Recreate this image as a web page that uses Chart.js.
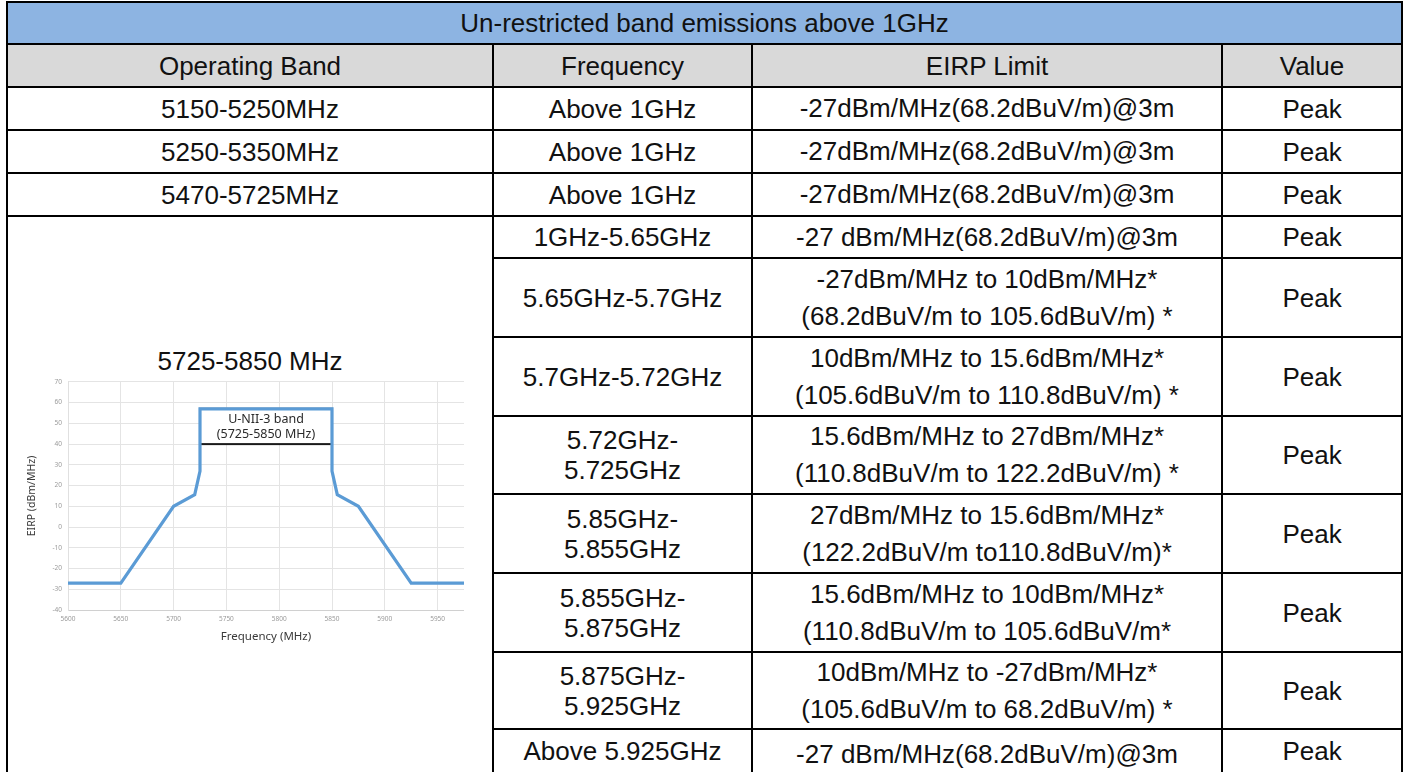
<!DOCTYPE html>
<html><head><meta charset="utf-8">
<script src="https://cdn.jsdelivr.net/npm/chart.js@4.4.1/dist/chart.umd.min.js"></script>
<style>
html,body{margin:0;padding:0;background:#fff;width:1408px;height:772px;overflow:hidden;}
#wrap{position:relative;width:1408px;height:772px;overflow:hidden;}
table{position:absolute;left:6px;top:1px;border-collapse:collapse;table-layout:fixed;width:1397px;
  font-family:"Liberation Sans",Arial,sans-serif;font-size:26px;color:#111;}
td{border:2px solid #000;text-align:center;vertical-align:middle;padding:0;overflow:hidden;white-space:nowrap;line-height:30px;}
td.lim{line-height:37px;}
tr.title td{background:#8db4e2;}
tr.head td{background:#d9d9d9;}
#bandLabel{position:absolute;left:7px;width:486px;top:346px;text-align:center;
  font-family:"Liberation Sans",Arial,sans-serif;font-size:26px;color:#111;line-height:30px;}
#chartBox{position:absolute;left:16px;top:372px;width:448px;height:276px;}
</style>
</head><body><div id="wrap">
<table id="tbl"><colgroup><col style="width:486px"><col style="width:259px"><col style="width:470px"><col style="width:180px"></colgroup><tbody></tbody></table>
<div id="bandLabel"></div>
<div id="chartBox"><canvas id="c" width="448" height="276"></canvas></div>
</div>
<script>
// ---- table text ----
const titleText = 'Un-restricted band emissions above 1GHz';
const headers = ['Operating Band', 'Frequency', 'EIRP Limit', 'Value'];
const simpleBands = ['5150-5250MHz', '5250-5350MHz', '5470-5725MHz'];
const simpleFreq = ['Above 1GHz', 'Above 1GHz', 'Above 1GHz'];
const simpleLimit = ['-27dBm/MHz(68.2dBuV/m)@3m', '-27dBm/MHz(68.2dBuV/m)@3m', '-27dBm/MHz(68.2dBuV/m)@3m'];
const uniiBand = '5725-5850 MHz';
const subFreq = [
  ['1GHz-5.65GHz'], ['5.65GHz-5.7GHz'], ['5.7GHz-5.72GHz'], ['5.72GHz-', '5.725GHz'],
  ['5.85GHz-', '5.855GHz'], ['5.855GHz-', '5.875GHz'], ['5.875GHz-', '5.925GHz'], ['Above 5.925GHz']
];
const subLimit = [
  ['-27 dBm/MHz(68.2dBuV/m)@3m'],
  ['-27dBm/MHz to 10dBm/MHz*', '(68.2dBuV/m to 105.6dBuV/m) *'],
  ['10dBm/MHz to 15.6dBm/MHz*', '(105.6dBuV/m to 110.8dBuV/m) *'],
  ['15.6dBm/MHz to 27dBm/MHz*', '(110.8dBuV/m to 122.2dBuV/m) *'],
  ['27dBm/MHz to 15.6dBm/MHz*', '(122.2dBuV/m to110.8dBuV/m)*'],
  ['15.6dBm/MHz to 10dBm/MHz*', '(110.8dBuV/m to 105.6dBuV/m*'],
  ['10dBm/MHz to -27dBm/MHz*', '(105.6dBuV/m to 68.2dBuV/m) *'],
  ['-27 dBm/MHz(68.2dBuV/m)@3m']
];
const valueType = 'Peak';

// ---- chart data ----
const freqMHz = [5600, 5650, 5700, 5720, 5725, 5725, 5850, 5850, 5855, 5875, 5925, 5975];
const eirpDbm = [-27, -27, 10, 15.6, 27, 57, 57, 27, 15.6, 10, -27, -27];
const boxLabel = ['U-NII-3 band', '(5725-5850 MHz)'];
const boxFreq = [5725, 5850];
const boxEirp = [40, 57];
const xAxisTitle = 'Frequency (MHz)';
const yAxisTitle = 'EIRP (dBm/MHz)';

// ---- build table ----
const rowHeights = [42, 43, 43, 43, 43, 42, 79, 79, 78, 79, 79, 77, 50];
const tb = document.querySelector('#tbl tbody');
let ri = 0;
function tr(cls) { const r = document.createElement('tr'); if (cls) r.className = cls; r.style.height = rowHeights[ri++] + 'px'; tb.appendChild(r); return r; }
function td(r, html, cls, attrs) { const c = document.createElement('td'); c.innerHTML = html; if (cls) c.className = cls; if (attrs) for (const k in attrs) c.setAttribute(k, attrs[k]); r.appendChild(c); return c; }
let r = tr('title'); td(r, titleText, '', { colspan: 4 });
r = tr('head'); headers.forEach(h => td(r, h));
simpleBands.forEach((b, i) => { const rr = tr(); td(rr, b); td(rr, simpleFreq[i]); td(rr, simpleLimit[i], 'lim'); td(rr, valueType); });
subFreq.forEach((f, i) => {
  const rr = tr();
  if (i === 0) td(rr, '', '', { rowspan: subFreq.length });
  const c2 = td(rr, f.join('<br>'));
  const c3 = td(rr, subLimit[i].join('<br>'), 'lim');
  const c4 = td(rr, valueType);
  if (i === subFreq.length - 1) { [c2, c3, c4].forEach(c => { c.style.verticalAlign = 'top'; c.style.paddingTop = '6px'; }); }
});
document.getElementById('bandLabel').textContent = uniiBand;

// ---- chart ----
const boxPlugin = {
  id: 'bandBox',
  beforeDatasetsDraw(chart) {
    const { ctx, scales: { x, y } } = chart;
    const x0 = x.getPixelForValue(boxFreq[0]), x1 = x.getPixelForValue(boxFreq[1]);
    const y0 = y.getPixelForValue(boxEirp[1]), y1 = y.getPixelForValue(boxEirp[0]);
    ctx.save();
    ctx.fillStyle = '#ffffff';
    ctx.fillRect(x0, y0, x1 - x0, y1 - y0);
    ctx.strokeStyle = '#1a1a1a';
    ctx.lineWidth = 2;
    ctx.strokeRect(x0, y0, x1 - x0, y1 - y0);
    ctx.fillStyle = '#2a2a2a';
    ctx.font = '12.5px "Noto Sans", "Open Sans", sans-serif';
    ctx.textAlign = 'center';
    ctx.textBaseline = 'middle';
    const cx = (x0 + x1) / 2, cy = (y0 + y1) / 2;
    ctx.fillText(boxLabel[0], cx, cy - 7.5);
    ctx.fillText(boxLabel[1], cx, cy + 7.5);
    ctx.restore();
  }
};

new Chart(document.getElementById('c'), {
  type: 'scatter',
  data: {
    datasets: [{
      data: freqMHz.map((f, i) => ({ x: f, y: eirpDbm[i] })),
      showLine: true,
      borderColor: 'rgb(91,155,213)',
      borderWidth: 3.2,
      pointRadius: 0,
      fill: false,
      tension: 0
    }]
  },
  options: {
    responsive: false,
    animation: false,
    devicePixelRatio: 1,
    layout: { padding: { top: 7, left: 0, right: 0, bottom: 0 } },
    plugins: { legend: { display: false }, tooltip: { enabled: false } },
    scales: {
      x: {
        type: 'linear', min: 5600, max: 5975,
        ticks: { stepSize: 50, includeBounds: false, padding: 5, color: '#9a9a9a', font: { size: 6.5, family: '"Noto Sans", sans-serif' }, maxRotation: 0, callback: v => String(v) },
        grid: { color: '#e4e4e4', drawTicks: false, lineWidth: 1 },
        border: { color: '#d0d0d0' },
        title: { display: true, text: xAxisTitle, color: '#3a3a3a', font: { size: 11.5, family: '"Noto Sans", sans-serif' }, padding: { top: 0, bottom: 4 } },
        afterFit(s) { s.height = 38; }
      },
      y: {
        type: 'linear', min: -40, max: 70,
        ticks: { stepSize: 10, padding: 6, color: '#9a9a9a', font: { size: 6.5, family: '"Noto Sans", sans-serif' }, callback: v => String(v) },
        grid: { color: '#e4e4e4', drawTicks: false, lineWidth: 1 },
        border: { color: '#e0e0e0' },
        title: { display: true, text: yAxisTitle, color: '#3a3a3a', font: { size: 10.5, family: '"Noto Sans", sans-serif' }, padding: { top: 10, bottom: 0 } },
        afterFit(s) { s.width = 52; }
      }
    }
  },
  plugins: [boxPlugin]
});
</script>
</body></html>
